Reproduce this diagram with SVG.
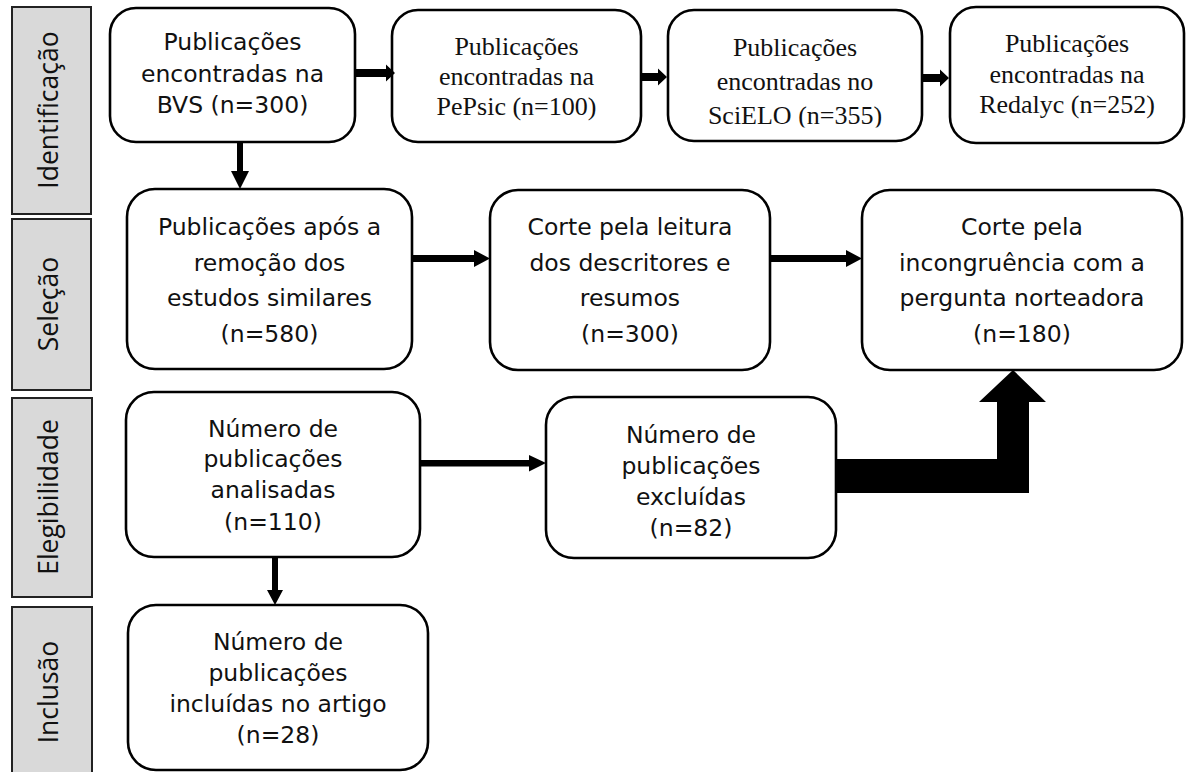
<svg xmlns="http://www.w3.org/2000/svg" width="1188" height="772" viewBox="0 0 1188 772">
<style>
.side{fill:#d9d9d9;stroke:#222;stroke-width:2}
.sl{font-family:"Open Sans","DejaVu Sans",sans-serif;font-size:26.5px;fill:#111;text-anchor:middle}
.box{fill:#fff;stroke:#000;stroke-width:2.6}
.t{font-family:"DejaVu Sans",sans-serif;font-size:23.5px;fill:#111;text-anchor:middle}
.s{font-family:"Liberation Serif","Times New Roman",serif;font-size:26px;fill:#111;text-anchor:middle}
.c{fill:#000}
</style>
<defs>
<clipPath id="clip3"><rect x="668" y="10" width="254" height="117.5"/></clipPath>
</defs>
<rect width="1188" height="772" fill="#fff"/>

<g id="phase-identificacao"><rect class="side" x="12" y="7" width="79" height="207"/><text class="sl" transform="translate(58,110) rotate(-90)">Identificação</text></g>
<g id="phase-selecao"><rect class="side" x="12" y="219" width="79" height="171"/><text class="sl" transform="translate(58,304) rotate(-90)">Seleção</text></g>
<g id="phase-elegibilidade"><rect class="side" x="12" y="398" width="80" height="199"/><text class="sl" transform="translate(58,497) rotate(-90)">Elegibilidade</text></g>
<g id="phase-inclusao"><rect class="side" x="12" y="607" width="80" height="175"/><text class="sl" transform="translate(58,692) rotate(-90)">Inclusão</text></g>

<g id="bvs"><rect class="box" x="110" y="8" width="245" height="134" rx="26"/>
<text class="t" x="232.5" y="50">Publicações</text><text class="t" x="232.5" y="82">encontradas na</text><text class="t" x="232.5" y="113">BVS (n=300)</text></g>
<g id="pepsic"><rect class="box" x="392" y="10" width="249" height="132" rx="26"/>
<text class="s" x="516.5" y="55">Publicações</text><text class="s" x="516.5" y="85">encontradas na</text><text class="s" x="516.5" y="115">PePsic (n=100)</text></g>
<g id="scielo"><rect class="box" x="668" y="10" width="254" height="131" rx="26"/>
<g clip-path="url(#clip3)"><text class="s" x="795" y="56">Publicações</text><text class="s" x="795" y="90">encontradas no</text><text class="s" x="795" y="124">SciELO (n=355)</text></g></g>
<g id="redalyc"><rect class="box" x="950" y="7" width="234" height="136" rx="26"/>
<text class="s" x="1067" y="52">Publicações</text><text class="s" x="1067" y="83">encontradas na</text><text class="s" x="1067" y="113">Redalyc (n=252)</text></g>

<g id="remocao"><rect class="box" x="127" y="189" width="285" height="180" rx="28"/>
<text class="t" x="269.5" y="235">Publicações após a</text><text class="t" x="269.5" y="271">remoção dos</text><text class="t" x="269.5" y="306">estudos similares</text><text class="t" x="269.5" y="342">(n=580)</text></g>
<g id="leitura"><rect class="box" x="490" y="190" width="280" height="180" rx="28"/>
<text class="t" x="630" y="235">Corte pela leitura</text><text class="t" x="630" y="271">dos descritores e</text><text class="t" x="630" y="306">resumos</text><text class="t" x="630" y="342">(n=300)</text></g>
<g id="incongruencia"><rect class="box" x="862" y="190" width="320" height="180" rx="28"/>
<text class="t" x="1022" y="235">Corte pela</text><text class="t" x="1022" y="271">incongruência com a</text><text class="t" x="1022" y="306">pergunta norteadora</text><text class="t" x="1022" y="342">(n=180)</text></g>

<g id="analisadas"><rect class="box" x="126" y="392" width="294" height="165" rx="28"/>
<text class="t" x="273" y="437">Número de</text><text class="t" x="273" y="467">publicações</text><text class="t" x="273" y="498">analisadas</text><text class="t" x="273" y="530">(n=110)</text></g>
<g id="excluidas"><rect class="box" x="546" y="397" width="290" height="161" rx="28"/>
<text class="t" x="691" y="443">Número de</text><text class="t" x="691" y="474">publicações</text><text class="t" x="691" y="505">excluídas</text><text class="t" x="691" y="536">(n=82)</text></g>
<g id="incluidas"><rect class="box" x="128" y="605" width="300" height="165" rx="28"/>
<text class="t" x="278" y="650">Número de</text><text class="t" x="278" y="681">publicações</text><text class="t" x="278" y="712">incluídas no artigo</text><text class="t" x="278" y="743">(n=28)</text></g>

<g id="connectors">
<polygon class="c" points="356,69 386,69 386,64.5 395,73 386,81.5 386,77 356,77"/>
<polygon class="c" points="642,73 658,73 658,68.5 667,77 658,85.5 658,81 642,81"/>
<polygon class="c" points="923,74 940,74 940,69.5 949,78 940,86.5 940,82 923,82"/>
<polygon class="c" points="237,143 243,143 243,171 249,171 240,189 231,171 237,171"/>
<polygon class="c" points="413,255 474,255 474,250 490,258.5 474,267 474,262 413,262"/>
<polygon class="c" points="771,255 846,255 846,250 862,258.5 846,267 846,262 771,262"/>
<polygon class="c" points="421,460 529,460 529,455 546,463 529,471.5 529,466.5 421,466.5"/>
<polygon class="c" points="272,558 278,558 278,590 283,590 275,605 267,590 272,590"/>
<polygon class="c" points="836,459 997,459 997,402 979,402 1013,370 1046,402 1029,402 1029,493 836,493"/>
</g>
</svg>
